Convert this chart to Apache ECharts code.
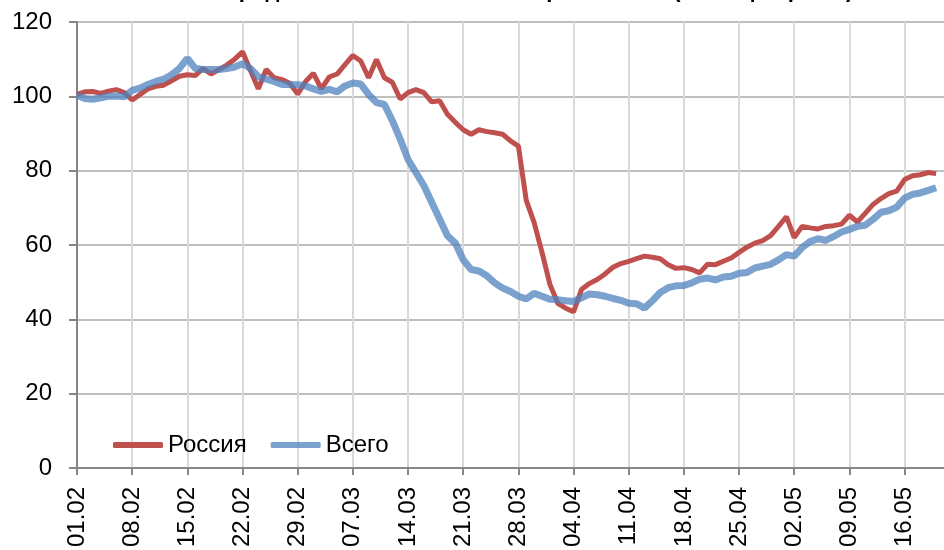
<html>
<head>
    <meta http-equiv="content-type" content="text/html; charset=utf-8">
    <title>Россия / Всего</title>
    <script src="https://cdn.jsdelivr.net/npm/echarts@6/dist/echarts.min.js"></script>
    <style>
        body { margin: 0; background: #fff; }
        #echart { width: 944px; height: 550px; }
    </style>
</head>

<body>
    <div id="echart"></div>
    <script type="text/javascript">
        // daily categories 01.02 - 21.05 (2020, leap year)
        var months = [['02', 29], ['03', 31], ['04', 30], ['05', 21]];
        var days = [];
        for (var m = 0; m < months.length; m++) {
            for (var d = 1; d <= months[m][1]; d++) {
                days.push((d < 10 ? '0' + d : '' + d) + '.' + months[m][0]);
            }
        }

        var yTicks = [0, 20, 40, 60, 80, 100, 120];

        var russia = [
            100.5, 101.2, 101.3, 100.8, 101.4, 101.8, 101.0, 99.0, 100.5, 102.0,
            102.7, 103.0, 104.2, 105.4, 105.8, 105.6, 107.5, 106.0, 107.2, 108.4,
            110.0, 112.0, 107.0, 102.0, 107.2, 105.0, 104.5, 103.5, 100.6, 104.0,
            106.2, 102.0, 105.2, 106.0, 108.5, 111.0, 109.5, 105.0, 109.9, 105.0,
            103.8, 99.3, 101.0, 101.8, 101.0, 98.5, 98.8, 95.2, 93.0, 91.0,
            89.8, 91.0, 90.5, 90.2, 89.8, 88.0, 86.6, 72.0, 66.0, 58.0,
            49.4, 44.3, 43.0, 42.0, 48.0, 49.6, 50.7, 52.2, 54.0, 55.0,
            55.6, 56.3, 57.0, 56.7, 56.3, 54.7, 53.7, 53.9, 53.4, 52.5,
            54.8, 54.7, 55.6, 56.5, 58.0, 59.4, 60.5, 61.2, 62.5, 65.0,
            67.6, 62.0, 65.0, 64.6, 64.3, 65.0, 65.2, 65.6, 68.0, 66.2,
            68.5, 70.9, 72.5, 73.8, 74.5, 77.6, 78.6, 78.9, 79.5, 79.2, null
        ];

        var total = [
            100.3, 99.4, 99.2, 99.6, 100.0, 100.1, 99.9, 101.6, 102.2, 103.2,
            104.0, 104.6, 105.8, 107.5, 110.2, 107.5, 107.2, 107.2, 107.2, 107.5,
            107.9, 108.8, 107.5, 105.3, 104.6, 104.0, 103.2, 103.2, 103.1, 102.8,
            102.0, 101.3, 101.9, 101.2, 102.8, 103.6, 103.3, 100.5, 98.3, 97.8,
            93.5, 88.5, 83.0, 79.5, 76.0, 71.5, 67.0, 62.5, 60.5, 56.0,
            53.4, 53.0, 51.7, 49.8, 48.4, 47.5, 46.2, 45.5, 47.0, 46.2,
            45.4, 45.3, 45.0, 44.8, 45.8, 46.8, 46.6, 46.2, 45.6, 45.1,
            44.3, 44.2, 43.0, 45.0, 47.2, 48.5, 49.0, 49.1, 49.8, 50.8,
            51.1, 50.6, 51.4, 51.6, 52.4, 52.6, 53.8, 54.3, 54.8, 56.0,
            57.4, 57.0, 59.3, 60.9, 61.7, 61.2, 62.3, 63.5, 64.2, 65.0,
            65.3, 66.9, 68.8, 69.2, 70.2, 72.6, 73.6, 74.0, 74.7, 75.4, null
        ];

        var font = '"Liberation Sans", Arial, sans-serif';

        var chart = echarts.init(document.getElementById('echart'), null, {renderer: 'canvas'});
        chart.setOption({
            animation: false,
            title: {
                text: 'Продажи авиабилетов по направлениям (в % к февралю)',
                left: 218,
                top: -25,
                textStyle: {fontFamily: font, fontSize: 22, fontWeight: 'bold', color: '#000'}
            },
            legend: {
                left: 108,
                top: 428,
                itemWidth: 50,
                itemHeight: 6,
                itemGap: 24,
                icon: 'roundRect',
                textStyle: {fontFamily: font, fontSize: 24, color: '#000'},
                data: ['Россия', 'Всего']
            },
            grid: {left: 77, right: 0, top: 22, bottom: 78},
            xAxis: {
                type: 'category',
                data: days,
                boundaryGap: false,
                axisLine: {lineStyle: {color: '#868686', width: 2}},
                axisTick: {interval: 6, length: 7, lineStyle: {color: '#868686', width: 2}},
                axisLabel: {
                    interval: 6, rotate: 90, margin: 19,
                    fontFamily: font, fontSize: 24, color: '#000'
                },
                splitLine: {show: true, interval: 6, lineStyle: {color: '#D9D9D9', width: 2}}
            },
            yAxis: {
                type: 'value',
                min: yTicks[0],
                max: yTicks[yTicks.length - 1],
                interval: 20,
                axisLine: {show: true, lineStyle: {color: '#868686', width: 2}},
                axisTick: {show: true, length: 8, lineStyle: {color: '#868686', width: 2}},
                axisLabel: {margin: 25, fontFamily: font, fontSize: 24, color: '#000'},
                splitLine: {lineStyle: {color: '#BFBFBF', width: 2}}
            },
            series: [
                {
                    name: 'Россия',
                    type: 'line',
                    data: russia,
                    showSymbol: false,
                    color: '#C0504D',
                    lineStyle: {width: 5, color: '#C0504D'}
                },
                {
                    name: 'Всего',
                    type: 'line',
                    data: total,
                    showSymbol: false,
                    color: 'rgba(79,129,189,0.75)',
                    lineStyle: {width: 7, color: 'rgba(79,129,189,0.75)'}
                }
            ]
        });
    </script>
</body>
</html>
